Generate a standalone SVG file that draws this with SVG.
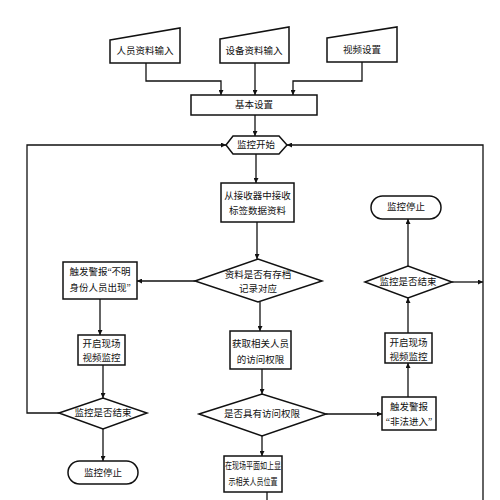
<svg xmlns="http://www.w3.org/2000/svg" width="500" height="500" viewBox="0 0 500 500">
<defs>
<marker id="arr" viewBox="0 0 10 10" refX="10" refY="5" markerWidth="5" markerHeight="5" orient="auto" markerUnits="userSpaceOnUse">
<path d="M0,0 L10,5 L0,10 z" fill="#111"/>
</marker>
</defs>
<style>
.n{fill:#fff;stroke:#111;stroke-width:1.5}
.c{fill:none;stroke:#111;stroke-width:1.3}
.a{marker-end:url(#arr)}
text{font-family:"Liberation Serif","Noto Sans CJK SC",serif;font-size:9.5px;fill:#111;text-anchor:middle;dominant-baseline:central}
</style>
<rect width="500" height="500" fill="#fff"/>
<g id="connectors">
<polyline class="c a" points="146,63 146,81 221,81 221,95"/>
<polyline class="c a" points="255,63 255,95"/>
<polyline class="c a" points="362,62 362,81 293,81 293,95"/>
<polyline class="c a" points="255,115 255,136"/>
<polyline class="c a" points="59,413 27,413 27,145 226,145"/>
<polyline class="c a" points="483,500 483,145 287,145"/>
<polyline class="c a" points="256,154 256,183"/>
<polyline class="c a" points="257,222 257,259"/>
<polyline class="c a" points="195,281 137,281"/>
<polyline class="c a" points="100,299 100,335"/>
<polyline class="c a" points="103,365 103,398"/>
<polyline class="c a" points="103,429 103,461"/>
<polyline class="c a" points="260,302 260,331"/>
<polyline class="c a" points="262,369 262,394"/>
<polyline class="c a" points="326,414 382,414"/>
<polyline class="c a" points="408,397 408,363"/>
<polyline class="c a" points="408,333 408,298"/>
<polyline class="c a" points="408,266 408,219"/>
<polyline class="c a" points="452,282 483,282"/>
<polyline class="c a" points="262,436 262,456"/>
<polyline class="c" points="267,492 267,500"/>
</g>
<g id="in1"><polygon class="n" points="110,40 180,28 180,63 110,63"/><text x="145" y="51">人员资料输入</text></g>
<g id="in2"><polygon class="n" points="220,39 289,27 289,63 220,63"/><text x="254" y="51">设备资料输入</text></g>
<g id="in3"><polygon class="n" points="327,38 397,27 397,62 327,62"/><text x="362" y="50">视频设置</text></g>
<g id="base"><rect class="n" x="191" y="95" width="126" height="20"/><text x="254" y="105">基本设置</text></g>
<g id="start"><polygon class="n" points="226,145 233,136 279,136 287,145 279,154 233,154"/><text x="256" y="145">监控开始</text></g>
<g id="receive"><rect class="n" x="221" y="183" width="73" height="39"/><text x="257.5" y="196">从接收器中接收</text><text x="257.5" y="211">标签数据资料</text></g>
<g id="d1"><polygon class="n" points="195,281 258,259 322,281 258,302"/><text x="258" y="275">资料是否有存档</text><text x="258" y="289">记录对应</text></g>
<g id="alarm1"><rect class="n" x="63" y="262" width="74" height="37"/><text x="100" y="272">触发警报“不明</text><text x="100" y="288">身份人员出现”</text></g>
<g id="video1"><rect class="n" x="78" y="335" width="47" height="30"/><text x="101.5" y="344">开启现场</text><text x="101.5" y="358">视频监控</text></g>
<g id="d2"><polygon class="n" points="59,413 103,398 147,413 103,429"/><text x="103" y="413">监控是否结束</text></g>
<g id="stop1"><rect class="n" x="68" y="461" width="70" height="23" rx="11.5"/><text x="103" y="473">监控停止</text></g>
<g id="access"><rect class="n" x="230" y="331" width="61" height="38"/><text x="260.5" y="344">获取相关人员</text><text x="260.5" y="360">的访问权限</text></g>
<g id="d3"><polygon class="n" points="199,414 262,394 326,414 262,436"/><text x="262" y="414">是否具有访问权限</text></g>
<g id="alarm2"><rect class="n" x="382" y="397" width="54" height="33"/><text x="409" y="407">触发警报</text><text x="409" y="422">“非法进入”</text></g>
<g id="video2"><rect class="n" x="385" y="333" width="47" height="30"/><text x="408.5" y="343">开启现场</text><text x="408.5" y="357">视频监控</text></g>
<g id="d4"><polygon class="n" points="365,282 408,266 452,282 408,298"/><text x="408" y="282">监控是否结束</text></g>
<g id="stop2"><rect class="n" x="371" y="196" width="70" height="23" rx="11.5"/><text x="406" y="207">监控停止</text></g>
<g id="show"><rect class="n" x="224" y="456" width="58" height="36"/><text transform="translate(253,466) scale(0.74,1)" x="0" y="0">在现场平面如上显</text><text transform="translate(253,482) scale(0.74,1)" x="0" y="0">示相关人员位置</text></g>
</svg>
